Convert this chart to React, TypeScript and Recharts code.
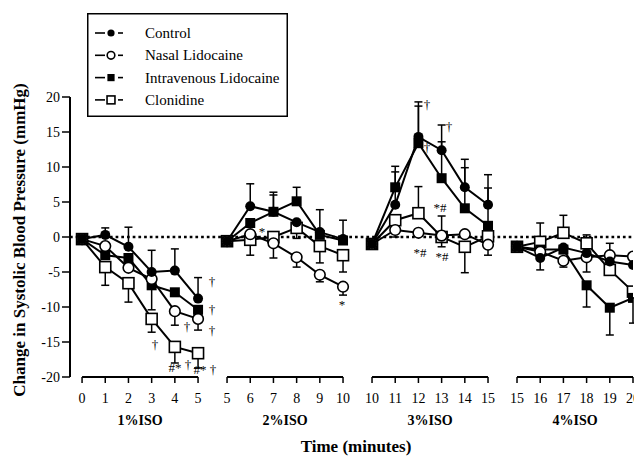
import React from "react";
import { ComposedChart, Line, Scatter, XAxis, YAxis, ErrorBar, ReferenceLine, Legend } from "recharts";

const FONT = "'Liberation Serif', 'Times New Roman', serif";

// the time axis is broken into four pieces, one per ISO level
const segmentMinutes = [
  [0, 1, 2, 3, 4, 5],
  [5, 6, 7, 8, 9, 10],
  [10, 11, 12, 13, 14, 15],
  [15, 16, 17, 18, 19, 20],
];
const segmentNames = ["1%ISO", "2%ISO", "3%ISO", "4%ISO"];
const SEG_GAP = 1.25; // empty room between the pieces, in minutes

const yTicks = [-20, -15, -10, -5, 0, 5, 10, 15, 20];

const control = [
  -0.3, 0.3, -1.4, -5.0, -4.8, -8.8,
  -0.6, 4.4, 3.6, 2.1, 0.7, -0.3,
  -1.0, 4.6, 14.3, 12.4, 7.1, 4.6,
  -1.4, -3.0, -1.5, -2.3, -3.5, -4.0,
];
const nasalLido = [
  -0.3, -1.3, -4.4, -6.0, -10.6, -11.7,
  -0.6, 0.4, -0.9, -2.9, -5.4, -7.1,
  -1.0, 1.0, 0.6, 0.2, 0.4, -1.1,
  -1.4, -2.1, -3.4, -2.9, -2.6, -2.8,
];
const ivLido = [
  -0.3, -2.6, -3.0, -6.9, -7.9, -10.4,
  -0.6, 2.0, 3.6, 5.1, 0.3, -0.5,
  -1.0, 7.1, 13.4, 8.4, 4.1, 1.6,
  -1.4, -1.8, -1.8, -6.9, -10.1, -8.7,
];
const clonidine = [
  -0.3, -4.3, -6.6, -11.7, -15.7, -16.6,
  -0.6, -0.4, 0.0, 1.3, -1.3, -2.6,
  -1.0, 2.4, 3.4, 0.0, -1.4, 0.1,
  -1.4, -0.7, 0.6, -0.9, -4.7, -7.8,
];

// SEM bars are one-sided: positive = drawn up, negative = drawn down, 0 = none
const controlErr = [
  0, 1.0, 2.8, 3.1, 3.1, 3.0,
  0, 3.2, 2.8, 0, 3.2, 2.7,
  0, 4.7, 5.0, 3.6, 4.0, 4.3,
  0, -1.7, 0, 0, 2.6, 0,
];
const nasalLidoErr = [
  0, 0, 0, 0, -2.0, -1.6,
  0, 0, -2.1, -1.4, -1.0, -1.2,
  0, -1.0, 0, -1.6, 0, -1.5,
  0, 0, -0.9, -2.1, 0, 0,
];
const ivLidoErr = [
  0, 0, 0, -3.5, 0, 0,
  0, 0, 2.4, 2.0, 0, 0,
  0, 3.0, 5.3, 5.2, 5.8, 5.4,
  0, 0, 0, -3.1, -3.9, -3.6,
];
const clonidineErr = [
  0, -2.6, -2.7, -1.9, -2.3, -2.1,
  0, -2.2, 0, -1.5, -2.4, -2.4,
  0, 0, 3.8, 3.0, -3.7, 0,
  0, 2.7, 2.5, 1.2, 0, 0,
];

// significance marks: segment, minute, value, symbol
const marks = [
  { seg: 0, t: 3.14, v: -15.4, text: "†" },
  { seg: 0, t: 4.0, v: -18.7, text: "#*" },
  { seg: 0, t: 4.57, v: -18.3, text: "†" },
  { seg: 0, t: 4.52, v: -12.9, text: "†" },
  { seg: 0, t: 5.1, v: -19.0, text: "#*" },
  { seg: 0, t: 5.64, v: -19.0, text: "†" },
  { seg: 0, t: 5.6, v: -6.4, text: "†" },
  { seg: 0, t: 5.6, v: -10.4, text: "†" },
  { seg: 0, t: 5.6, v: -13.4, text: "†" },
  { seg: 1, t: 6.51, v: 0.7, text: "*" },
  { seg: 1, t: 9.95, v: -9.7, text: "*" },
  { seg: 2, t: 12.37, v: 18.9, text: "†" },
  { seg: 2, t: 12.37, v: 12.7, text: "†" },
  { seg: 2, t: 13.32, v: 15.7, text: "†" },
  { seg: 2, t: 12.93, v: 4.1, text: "*#" },
  { seg: 2, t: 12.07, v: -2.3, text: "*#" },
  { seg: 2, t: 13.01, v: -2.9, text: "*#" },
];

type Shape = "dot" | "ring" | "block" | "box";

const series: { key: string; name: string; shape: Shape; values: number[]; err: number[] }[] = [
  { key: "control", name: "Control", shape: "dot", values: control, err: controlErr },
  { key: "nasal", name: "Nasal Lidocaine", shape: "ring", values: nasalLido, err: nasalLidoErr },
  { key: "iv", name: "Intravenous Lidocaine", shape: "block", values: ivLido, err: ivLidoErr },
  { key: "clon", name: "Clonidine", shape: "box", values: clonidine, err: clonidineErr },
];

const errPair = (e: number) => (e === 0 ? null : e > 0 ? [0, e] : [-e, 0]);

const rows: Record<string, any>[] = [];
segmentMinutes.forEach((mins, s) => {
  mins.forEach((m, i) => {
    const k = s * mins.length + i;
    const row: Record<string, any> = { p: m + s * SEG_GAP };
    series.forEach((sr) => {
      row[sr.key] = sr.values[k];
      row[sr.key + "Err"] = errPair(sr.err[k]);
    });
    rows.push(row);
  });
  // empty row so the lines break between pieces
  if (s < segmentMinutes.length - 1) rows.push({ p: mins[mins.length - 1] + s * SEG_GAP + SEG_GAP / 2 });
});

const markRows = marks.map((m) => ({ p: m.t + m.seg * SEG_GAP, v: m.v, text: m.text }));

const xTicks = segmentMinutes.flatMap((mins, s) => mins.map((m) => m + s * SEG_GAP));
const xTickText = segmentMinutes.flat();
const groupTicks = segmentMinutes.map((mins, s) => (mins[0] + mins[mins.length - 1]) / 2 + s * SEG_GAP);
const X_DOMAIN = [-0.52, 23.75];

function marker(shape: Shape, cx: number, cy: number, key: string, size = 1) {
  switch (shape) {
    case "dot":
      return <circle key={key} cx={cx} cy={cy} r={5 * size} fill="#000" />;
    case "ring":
      return <circle key={key} cx={cx} cy={cy} r={5.3 * size} fill="#fff" stroke="#000" strokeWidth={1.6} />;
    case "block":
      return <rect key={key} x={cx - 5 * size} y={cy - 5 * size} width={10 * size} height={10 * size} fill="#000" />;
    default:
      return (
        <rect key={key} x={cx - 5.5 * size} y={cy - 5.5 * size} width={11 * size} height={11 * size}
          fill="#fff" stroke="#000" strokeWidth={1.6} />
      );
  }
}

const makeDot = (shape: Shape) => (props: any) => {
  const { cx, cy, value, index } = props;
  if (cx == null || cy == null || value == null) return <g key={`e${index}`} />;
  return marker(shape, cx, cy, `d${index}`);
};

// opacity just under 1 keeps the tiny glyphs on grayscale antialiasing
const MarkText = (props: any) => (
  <g opacity={0.99}>
    <text x={Math.round(props.cx)} y={Math.round(props.cy + 4)} textAnchor="middle" fontSize={13}
      fontFamily={FONT} fill="#000">
      {props.payload.text}
    </text>
  </g>
);

const MinuteTick = (props: any) => (
  <text x={props.x} y={props.y + 16} textAnchor="middle" fontSize={14} fontFamily={FONT} fill="#000">
    {xTickText[props.index]}
  </text>
);

const GroupTick = (props: any) => (
  <text x={props.x} y={props.y + 18} textAnchor="middle" fontSize={14} fontWeight="bold" fontFamily={FONT} fill="#000">
    {segmentNames[props.index]}
  </text>
);

const LegendBox = () => (
  <svg width={201} height={104} style={{ display: "block" }}>
    <rect x={0.75} y={0.75} width={199.5} height={102.5} fill="#fff" stroke="#000" strokeWidth={1.5} />
    {series.map((sr, i) => {
      const cy = 20 + i * 22.3;
      return (
        <g key={sr.key}>
          <line x1={8} x2={18} y1={cy} y2={cy} stroke="#000" strokeWidth={1.6} />
          {marker(sr.shape, 24, cy, "m" + i, 0.72)}
          <line x1={31} x2={36} y1={cy} y2={cy} stroke="#000" strokeWidth={1.6} />
          <text x={58} y={cy + 5} fontSize={15} fontFamily={FONT} fill="#000">{sr.name}</text>
        </g>
      );
    })}
  </svg>
);

export default function App() {
  return (
    <div style={{ position: "absolute", left: 0, top: 0, width: 634, height: 456, overflow: "hidden", background: "#fff" }}>
      <ComposedChart width={660} height={456} data={rows} margin={{ top: 97, right: 27, bottom: 0, left: 0 }}>
        <XAxis
          dataKey="p"
          type="number"
          domain={X_DOMAIN}
          allowDataOverflow
          ticks={xTicks}
          interval={0}
          height={30}
          axisLine={false}
          tickLine={{ stroke: "#000", strokeWidth: 1.5 }}
          tickSize={6}
          tickMargin={4}
          tick={<MinuteTick />}
        />
        <XAxis
          xAxisId="grp"
          dataKey="p"
          type="number"
          domain={X_DOMAIN}
          allowDataOverflow
          ticks={groupTicks}
          interval={0}
          height={49}
          axisLine={false}
          tickLine={false}
          tickSize={0}
          tickMargin={0}
          tick={<GroupTick />}
          label={() => (
            <text x={356} y={452} textAnchor="middle" fontSize={17} fontWeight="bold" fontFamily={FONT} fill="#000">
              Time (minutes)
            </text>
          )}
        />
        <YAxis
          type="number"
          domain={[-20, 20]}
          ticks={yTicks}
          interval={0}
          width={70}
          axisLine={{ stroke: "#000", strokeWidth: 2 }}
          tickLine={{ stroke: "#000", strokeWidth: 1.5 }}
          tickSize={8}
          tick={{ fontSize: 14, fill: "#000", fontFamily: FONT }}
          label={() => (
            <text x={25} y={240} transform="rotate(-90 25 240)" textAnchor="middle" fontSize={17}
              fontWeight="bold" fontFamily={FONT} fill="#000">
              Change in Systolic Blood Pressure (mmHg)
            </text>
          )}
        />
        <ReferenceLine y={0} stroke="#000" strokeWidth={2.5} strokeDasharray="2.7 3" />
        {segmentMinutes.map((mins, s) => (
          <ReferenceLine
            key={"ax" + s}
            segment={[
              { x: mins[0] + s * SEG_GAP, y: -20 },
              { x: mins[mins.length - 1] + s * SEG_GAP, y: -20 },
            ]}
            stroke="#000"
            strokeWidth={2}
          />
        ))}
        {[...series].reverse().map((sr) => (
          <Line
            key={sr.key}
            dataKey={sr.key}
            name={sr.name}
            stroke="#000"
            strokeWidth={2}
            dot={makeDot(sr.shape)}
            activeDot={false}
            isAnimationActive={false}
          >
            <ErrorBar dataKey={sr.key + "Err"} width={4} strokeWidth={1.5} stroke="#000" direction="y" isAnimationActive={false} />
          </Line>
        ))}
        <Scatter data={markRows} dataKey="v" fill="#000" shape={<MarkText />} isAnimationActive={false} />
        <Legend
          layout="horizontal"
          verticalAlign="middle"
          align="center"
          wrapperStyle={{ left: 87, top: 13, width: 201, height: 104 }}
          content={() => <LegendBox />}
        />
      </ComposedChart>
    </div>
  );
}
